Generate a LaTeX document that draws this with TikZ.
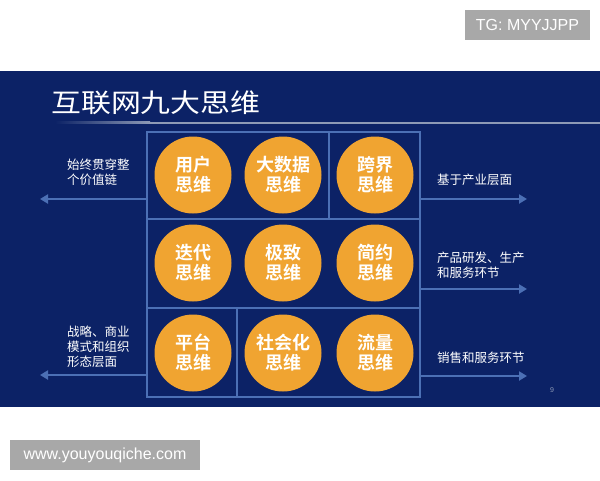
\documentclass[tikz,border=0pt]{standalone}
\usepackage{graphicx}
\usepackage{fontspec}
\setmainfont{Liberation Sans}
\newfontfamily\cjk{Noto Sans CJK SC}
\newfontfamily\cjkb{Noto Sans CJK SC Bold}
\usetikzlibrary{arrows.meta}
\definecolor{navy}{HTML}{0C2266}
\definecolor{gridc}{HTML}{4C70B5}
\definecolor{orng}{HTML}{F0A431}
\definecolor{wm}{HTML}{A8A8A8}
\definecolor{uline}{HTML}{8E9AB6}
\tikzset{
  think/.style={circle, fill=orng, minimum size=77pt, inner sep=0pt, text=white,
    font=\cjkb\fontsize{18}{20}\selectfont, align=center},
  side/.style={text=white, font=\cjk\fontsize{12.5}{15}\selectfont, align=left, inner sep=0pt},
  outarrow/.style={draw=gridc, line width=2.6pt, -{Triangle[length=8pt,width=9pt]}},
  gline/.style={draw=gridc, line width=1.6pt},
  wmbox/.style={fill=wm, text=white, inner sep=0pt, font=\fontsize{16}{18}\selectfont}
}
\begin{document}
\begin{tikzpicture}[x=1pt,y=-1pt]
\useasboundingbox (0,0) rectangle (600,480);
\fill[white] (0,0) rectangle (600,480);
\fill[navy] (0,71) rectangle (600,407);
% title
\node[anchor=west, text=white, inner sep=0pt, font=\cjk\fontsize{26}{30}\selectfont] (title) at (51,102.5) {\scalebox{1.15}[1]{互联网九大思维}};
\shade[left color=navy, right color=uline] (55,121.5) rectangle (150,123.5);
\fill[uline] (150,121.5) rectangle (600,123.5);
% grid
\node[gline, rectangle, minimum width=273pt, minimum height=265pt, inner sep=0pt] (grid) at (283.5,264.5) {};
\coordinate (r1) at (147,219);
\coordinate (r2) at (147,308);
\draw[gline] (r1) -- (r1 -| grid.east);
\draw[gline] (r2) -- (r2 -| grid.east);
\coordinate (c1) at (329,132);
\draw[gline] (c1) -- (c1 |- r1);
\coordinate (c2) at (237,308);
\draw[gline] (c2) -- (c2 |- grid.south);
% circles
\node[think] (yonghu) at (193,175) {用户\\思维};
\node[think] (dashuju) at (283,175) {大数据\\思维};
\node[think] (kuajie) at (375,175) {跨界\\思维};
\node[think] (diedai) at (193,263) {迭代\\思维};
\node[think] (jizhi) at (283,263) {极致\\思维};
\node[think] (jianyue) at (375,263) {简约\\思维};
\node[think] (pingtai) at (193,353) {平台\\思维};
\node[think] (shehui) at (283,353) {社会化\\思维};
\node[think] (liuliang) at (375,353) {流量\\思维};
% left arrows
\coordinate (la1) at (40,199);
\coordinate (la2) at (40,375);
\draw[outarrow] (la1 -| grid.west) -- (la1);
\draw[outarrow] (la2 -| grid.west) -- (la2);
\node[side, anchor=north west] (lt1) at (67,159) {始终贯穿整\\个价值链};
\node[side, anchor=north west] (lt2) at (67,326) {战略、商业\\模式和组织\\形态层面};
% right arrows
\coordinate (ra1) at (527,199);
\coordinate (ra2) at (527,289);
\coordinate (ra3) at (527,376);
\draw[outarrow] (ra1 -| grid.east) -- (ra1);
\draw[outarrow] (ra2 -| grid.east) -- (ra2);
\draw[outarrow] (ra3 -| grid.east) -- (ra3);
\node[side, anchor=north west] (rt1) at (437,174) {基于产业层面};
\node[side, anchor=north west] (rt2) at (437,252) {产品研发、生产\\和服务环节};
\node[side, anchor=north west] (rt3) at (437,352) {销售和服务环节};
\node[text=uline, font=\fontsize{7}{8}\selectfont, inner sep=0pt] (pg) at (552,390) {9};
% watermarks
\node[wmbox, minimum width=125pt, minimum height=30pt] (tg) at (527.5,25) {TG: MYYJJPP};
\node[wmbox, minimum width=190pt, minimum height=30pt] (www) at (105,455) {www.youyouqiche.com};
\end{tikzpicture}
\end{document}
